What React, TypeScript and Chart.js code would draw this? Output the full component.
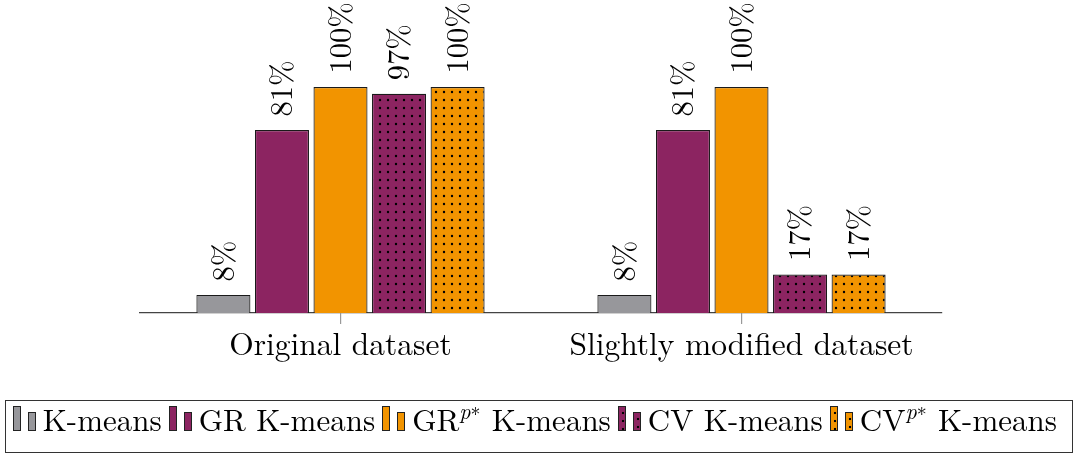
import React, { useEffect, useRef } from "react";
import { Chart, registerables } from "chart.js";

Chart.register(...registerables);

const categories = ["Original dataset", "Slightly modified dataset"];
const kMeans = [8, 8];
const grKMeans = [81, 81];
const grPKMeans = [100, 100];
const cvKMeans = [97, 17];
const cvPKMeans = [100, 17];

const GRAY = "#97979b";
const PURPLE = "#8c2461";
const ORANGE = "#f29400";
const SERIF = "Latin Modern Roman";

function dotPattern(color: string): CanvasPattern | string {
  const c = document.createElement("canvas");
  c.width = 8;
  c.height = 8;
  const x = c.getContext("2d");
  if (!x) return color;
  x.fillStyle = color;
  x.fillRect(0, 0, 8, 8);
  x.fillStyle = "#000";
  x.beginPath();
  x.arc(4, 4, 1.2, 0, Math.PI * 2);
  x.fill();
  const p = x.createPattern(c, "repeat");
  return p || color;
}

const valueLabels = {
  id: "valueLabels",
  afterDatasetsDraw(chart: any) {
    const ctx = chart.ctx;
    ctx.save();
    ctx.fillStyle = "#000";
    ctx.font = `30.5px "${SERIF}"`;
    ctx.textAlign = "left";
    ctx.textBaseline = "middle";
    chart.data.datasets.forEach((ds: any, i: number) => {
      const meta = chart.getDatasetMeta(i);
      meta.data.forEach((el: any, j: number) => {
        const v = ds.data[j];
        ctx.save();
        ctx.translate(el.x + 1, el.y - 13.5);
        ctx.rotate(-Math.PI / 2);
        ctx.fillText(`${v}%`, 0, 0);
        ctx.restore();
      });
    });
    ctx.restore();
  },
};

function Swatch({ color, dotted }: { color: string; dotted: boolean }) {
  const bg: React.CSSProperties = {
    backgroundColor: color,
    backgroundImage: dotted
      ? "radial-gradient(circle, #000 1.1px, transparent 1.6px)"
      : undefined,
    backgroundSize: dotted ? "8px 8px" : undefined,
    backgroundPosition: "0px 2px",
    border: "1.2px solid #222",
    boxSizing: "border-box",
    width: 8,
    display: "inline-block",
    verticalAlign: "baseline",
    marginRight: 7,
  };
  return (
    <>
      <span style={{ ...bg, height: 25 }} />
      <span style={{ ...bg, height: 19 }} />
    </>
  );
}

const supP: React.CSSProperties = { fontSize: 22, fontStyle: "italic", position: "relative", top: -12 };
const supStar: React.CSSProperties = { fontSize: 20, position: "relative", top: -15, marginRight: 1 };

const legendItems = [
  { color: GRAY, dotted: false, label: <>K-means</> },
  { color: PURPLE, dotted: false, label: <>GR K-means</> },
  {
    color: ORANGE,
    dotted: false,
    label: (
      <>
        GR<span style={supP}>p</span>
        <span style={supStar}>∗</span> K-means
      </>
    ),
  },
  { color: PURPLE, dotted: true, label: <>CV K-means</> },
  {
    color: ORANGE,
    dotted: true,
    label: (
      <>
        CV<span style={supP}>p</span>
        <span style={supStar}>∗</span> K-means
      </>
    ),
  },
];

export default function App() {
  const ref = useRef<HTMLCanvasElement>(null);

  useEffect(() => {
    if (!ref.current) return;
    const mk = (label: string, data: number[], color: string, dotted: boolean) => ({
      label,
      data,
      backgroundColor: dotted ? dotPattern(color) : color,
      borderColor: "#1a1a1a",
      borderWidth: 1.2,
      categoryPercentage: 0.73,
      barPercentage: 0.923,
    });
    const chart = new Chart(ref.current, {
      type: "bar",
      data: {
        labels: categories,
        datasets: [
          mk("K-means", kMeans, GRAY, false),
          mk("GR K-means", grKMeans, PURPLE, false),
          mk("GRp* K-means", grPKMeans, ORANGE, false),
          mk("CV K-means", cvKMeans, PURPLE, true),
          mk("CVp* K-means", cvPKMeans, ORANGE, true),
        ],
      },
      options: {
        responsive: false,
        animation: false,
        layout: { padding: { left: 140, right: 136, top: 0, bottom: 0 } },
        plugins: { legend: { display: false }, tooltip: { enabled: false } },
        scales: {
          x: {
            afterFit: (scale: any) => {
              scale.height = 141;
            },
            grid: {
              offset: false,
              drawOnChartArea: false,
              drawTicks: true,
              tickLength: 11,
              color: "#999",
              lineWidth: 1.2,
            },
            border: { display: true, color: "#444", width: 1.3 },
            ticks: {
              color: "#000",
              font: { family: SERIF, size: 31.5 },
              padding: 2,
              autoSkip: false,
              maxRotation: 0,
            },
          },
          y: { display: false, min: 0, max: 138.5 },
        },
      },
      plugins: [valueLabels],
    });
    return () => chart.destroy();
  }, []);

  return (
    <div style={{ position: "absolute", left: 0, top: 0, width: 1078, height: 454, background: "#fff" }}>
      <canvas ref={ref} width={1078} height={454} style={{ position: "absolute", left: 0, top: 0 }} />
      <div
        style={{
          position: "absolute",
          left: 5,
          top: 400,
          width: 1068,
          height: 53,
          boxSizing: "border-box",
          border: "1.3px solid #333",
          paddingLeft: 6.7,
          fontFamily: `"${SERIF}"`,
          fontSize: 31,
          lineHeight: "50px",
          color: "#000",
          whiteSpace: "nowrap",
        }}
      >
        <span style={{ position: "relative", top: -8 }}>
          {legendItems.map((it, i) => (
            <span key={i}>
              <Swatch color={it.color} dotted={it.dotted} />
              <span style={{ marginRight: 7 }}>{it.label}</span>
            </span>
          ))}
        </span>
      </div>
    </div>
  );
}
